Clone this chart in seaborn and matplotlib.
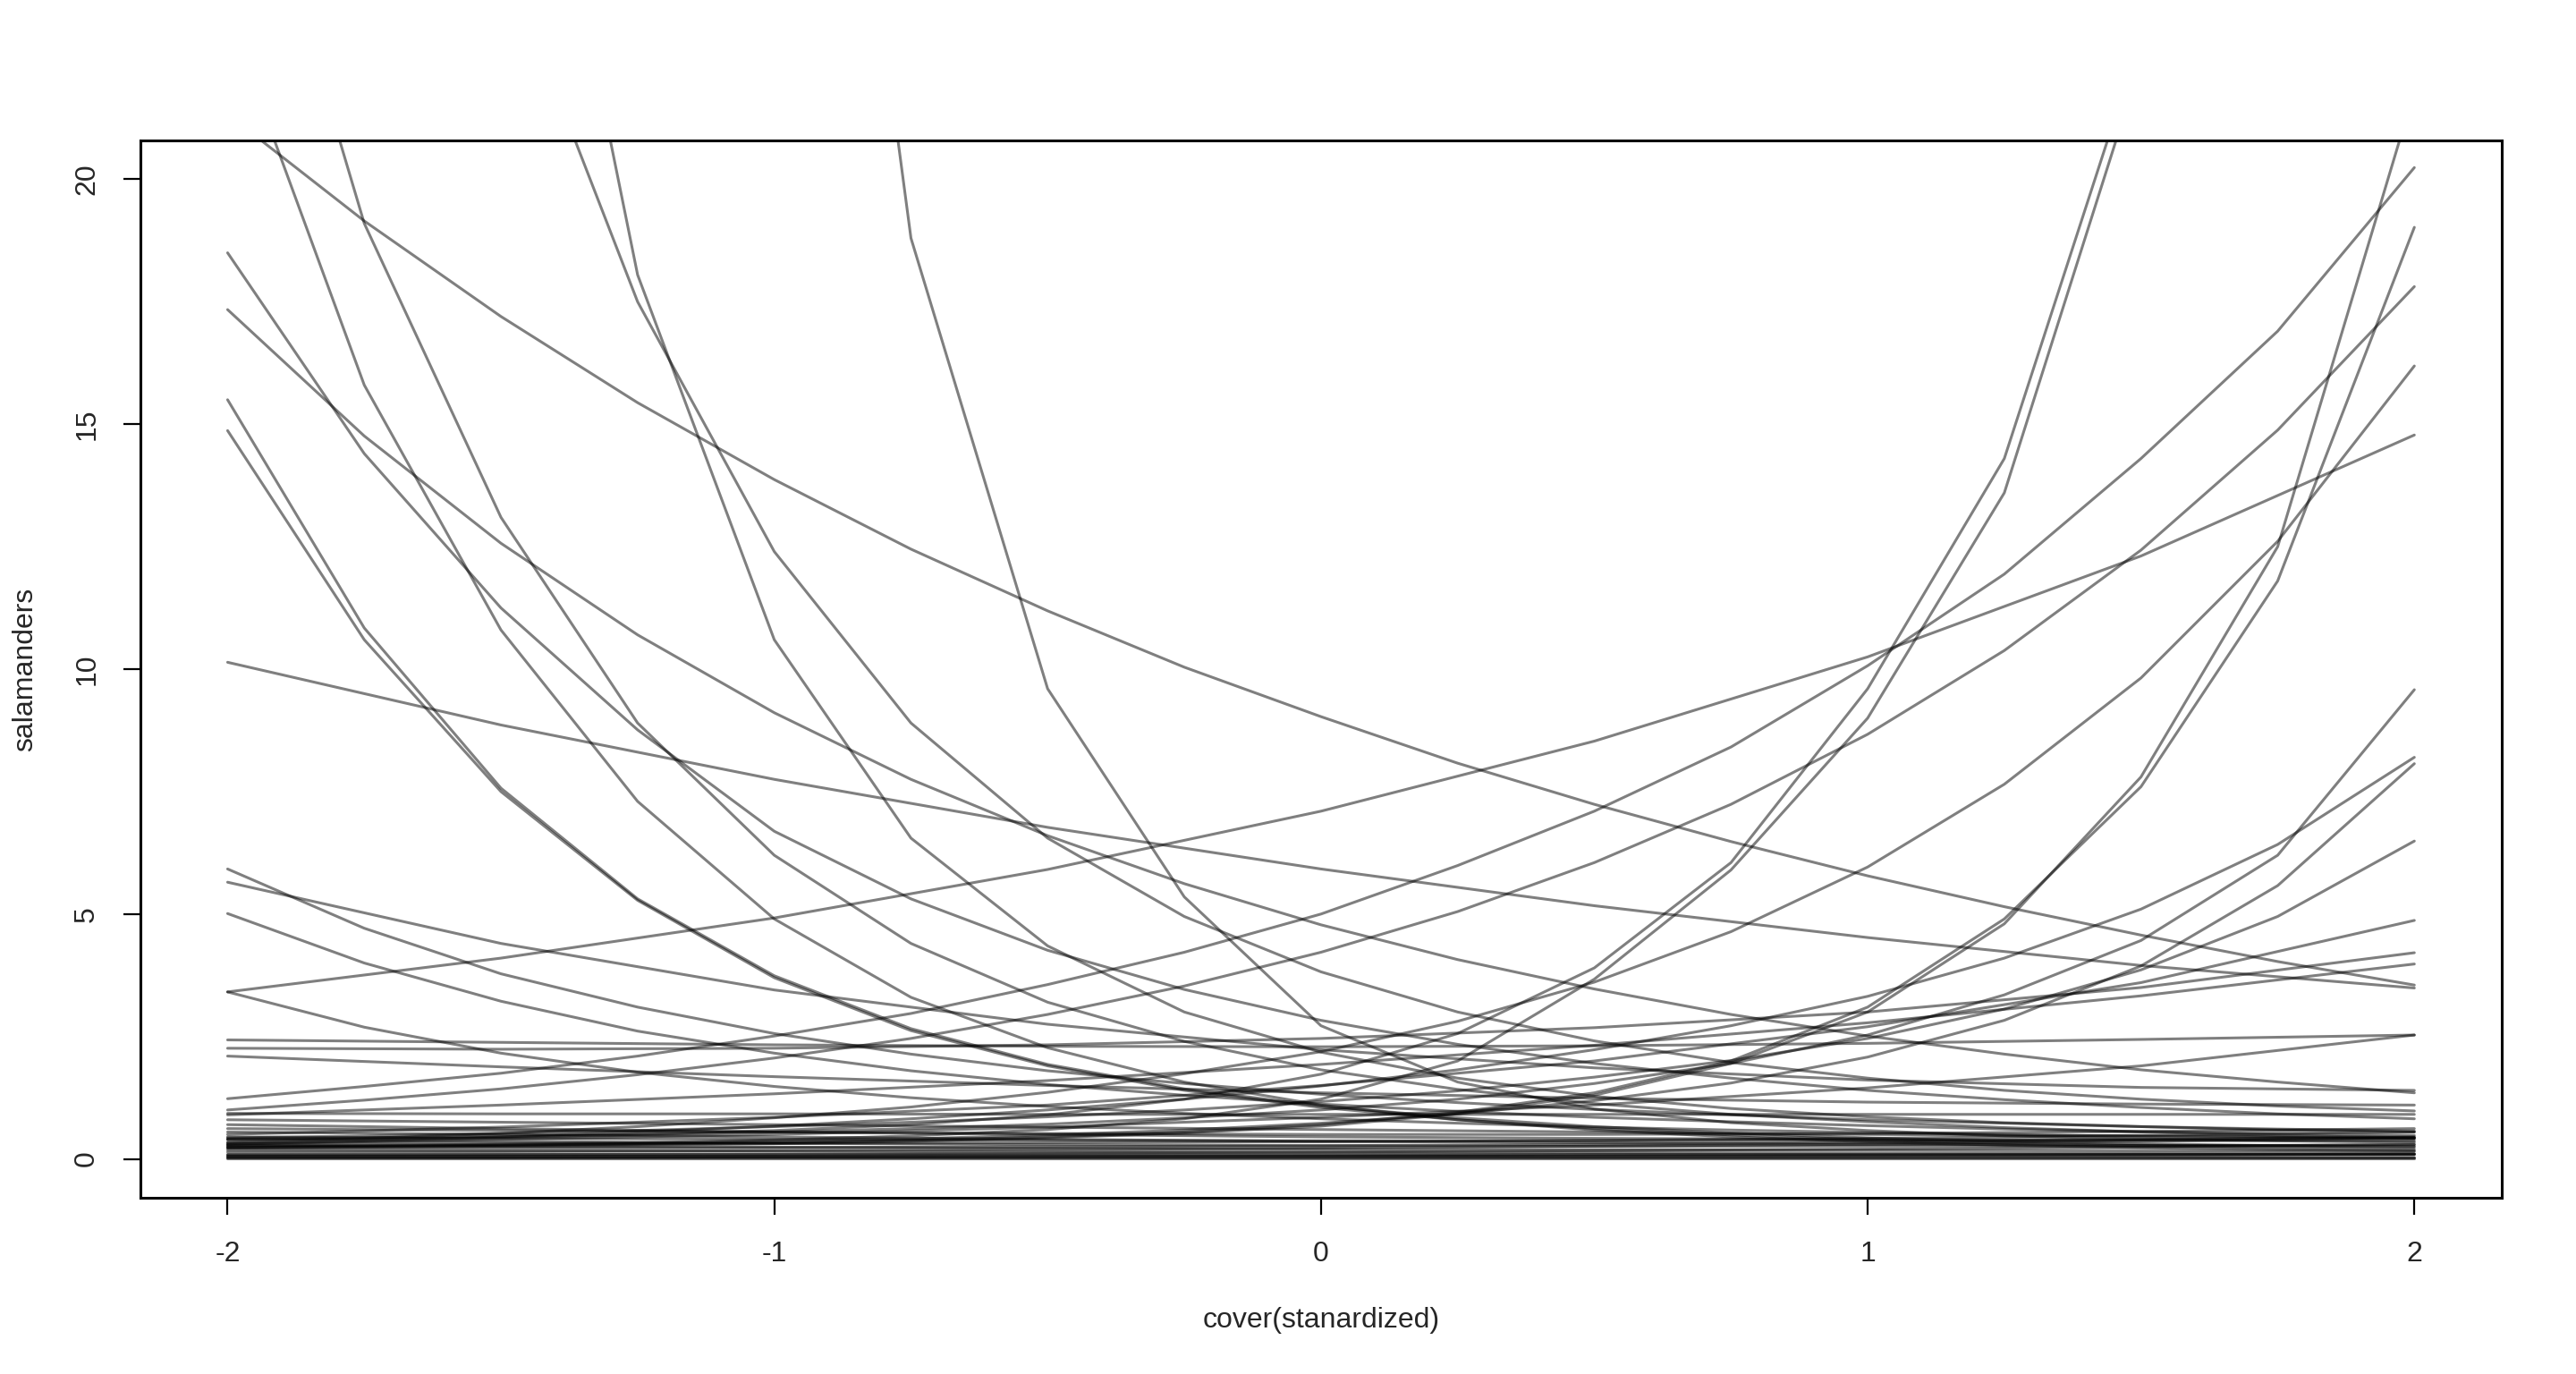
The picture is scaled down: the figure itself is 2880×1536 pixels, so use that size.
import matplotlib
matplotlib.use("Agg")
from matplotlib import pyplot as plt
import numpy as np
import pandas as pd
import seaborn as sns

# fine x grid, used for the curves that bend a lot
cover_fine = [-2.0, -1.75, -1.5, -1.25, -1.0, -0.75, -0.5, -0.25, 0.0,
              0.25, 0.5, 0.75, 1.0, 1.25, 1.5, 1.75, 2.0]
# coarse x grid, used for the flatter curves
cover = [-2.0, -1.5, -1.0, -0.5, 0.0, 0.5, 1.0, 1.5, 2.0]

# curves read at the fine grid (values above 20 run off the top)
bending = [
    [21.33, 19.15, 17.2, 15.44, 13.87, 12.45, 11.19, 10.04, 9.03, 8.08, 7.24, 6.48, 5.78, 5.15, 4.57, 4.03, 3.55],
    [23.4, 15.8, 10.8, 7.3, 4.9, 3.3, 2.27, 1.57, 1.1, 0.8, 0.59, 0.45, 0.35, 0.28, 0.23, 0.19, 0.165],
    [15.5, 10.84, 7.57, 5.31, 3.74, 2.66, 1.93, 1.43, 1.08, 0.84, 0.66, 0.53, 0.43, 0.36, 0.31, 0.27, 0.24],
    [14.87, 10.6, 7.5, 5.28, 3.7, 2.62, 1.9, 1.4, 1.05, 0.8, 0.62, 0.49, 0.39, 0.32, 0.27, 0.23, 0.2],
    [18.5, 14.4, 11.25, 8.76, 6.69, 5.31, 4.26, 3.46, 2.83, 2.34, 1.95, 1.65, 1.4, 1.21, 1.05, 0.92, 0.82],
    [17.34, 14.76, 12.57, 10.7, 9.11, 7.75, 6.6, 5.62, 4.78, 4.07, 3.47, 2.95, 2.51, 2.14, 1.82, 1.57, 1.35],
    [28.5, 19.1, 13.1, 8.9, 6.2, 4.4, 3.2, 2.4, 1.82, 1.42, 1.13, 0.91, 0.76, 0.64, 0.55, 0.48, 0.43],
    [50.0, 34.8, 24.7, 17.5, 12.4, 8.9, 6.55, 4.95, 3.82, 3.0, 2.41, 1.97, 1.65, 1.4, 1.22, 1.08, 0.98],
    [100.0, 55.0, 31.8, 18.05, 10.6, 6.55, 4.35, 3.0, 2.18, 1.65, 1.28, 1.03, 0.86, 0.74, 0.66, 0.59, 0.55],
    [1800.0, 600.0, 220.0, 90.0, 39.8, 18.8, 9.6, 5.35, 2.72, 1.57, 1.02, 0.74, 0.58, 0.47, 0.41, 0.37, 0.34],
    [5.92, 4.71, 3.78, 3.1, 2.56, 2.14, 1.8, 1.54, 1.32, 1.15, 1.01, 0.9, 0.8, 0.73, 0.66, 0.61, 0.57],
    [5.01, 4.0, 3.22, 2.61, 2.16, 1.8, 1.52, 1.3, 1.12, 0.97, 0.85, 0.76, 0.68, 0.61, 0.56, 0.52, 0.48],
    [3.41, 2.69, 2.16, 1.77, 1.48, 1.25, 1.07, 0.93, 0.82, 0.73, 0.65, 0.59, 0.54, 0.5, 0.46, 0.44, 0.41],
    [1.23, 1.48, 1.75, 2.1, 2.51, 2.97, 3.56, 4.22, 5.0, 5.99, 7.1, 8.41, 10.07, 11.94, 14.3, 16.9, 20.24],
    [1.0, 1.2, 1.43, 1.72, 2.06, 2.46, 2.95, 3.53, 4.22, 5.05, 6.05, 7.24, 8.67, 10.38, 12.43, 14.88, 17.81],
    [0.34, 0.42, 0.52, 0.66, 0.84, 1.06, 1.36, 1.74, 2.19, 2.81, 3.61, 4.64, 5.96, 7.65, 9.82, 12.61, 16.19],
    [0.25, 0.26, 0.28, 0.3, 0.33, 0.38, 0.45, 0.55, 0.7, 0.95, 1.35, 2.0, 3.1, 4.9, 7.6, 11.8, 19.02],
    [0.22, 0.24, 0.26, 0.28, 0.31, 0.36, 0.43, 0.53, 0.67, 0.92, 1.3, 1.95, 3.0, 4.8, 7.8, 12.5, 21.8],
    [0.39, 0.41, 0.44, 0.5, 0.58, 0.7, 0.9, 1.22, 1.73, 2.56, 3.9, 6.05, 9.6, 14.3, 22.9, 36.6, 63.0],
    [0.27, 0.28, 0.3, 0.33, 0.39, 0.47, 0.6, 0.82, 1.22, 2.0, 3.67, 5.9, 9.0, 13.6, 22.4, 34.0, 55.0],
    [0.41, 0.43, 0.46, 0.5, 0.55, 0.62, 0.71, 0.84, 1.0, 1.22, 1.54, 1.95, 2.53, 3.35, 4.46, 6.2, 9.58],
    [0.3, 0.37, 0.45, 0.55, 0.67, 0.82, 1.0, 1.22, 1.49, 1.82, 2.23, 2.72, 3.32, 4.1, 5.1, 6.42, 8.2],
    [0.24, 0.26, 0.28, 0.31, 0.36, 0.41, 0.49, 0.59, 0.73, 0.92, 1.19, 1.55, 2.08, 2.83, 3.94, 5.58, 8.07],
    [0.43, 0.47, 0.52, 0.58, 0.66, 0.75, 0.86, 1.0, 1.17, 1.39, 1.67, 2.01, 2.46, 3.06, 3.86, 4.95, 6.49],
]

# flatter curves read at the coarse grid
gentle = [
    [10.14, 8.86, 7.75, 6.77, 5.92, 5.17, 4.52, 3.95, 3.49],
    [5.65, 4.4, 3.45, 2.75, 2.23, 1.86, 1.61, 1.46, 1.4],
    [2.1, 1.88, 1.68, 1.5, 1.35, 1.24, 1.16, 1.12, 1.1],
    [0.93, 0.92, 0.92, 0.91, 0.91, 0.91, 0.91, 0.91, 0.91],
    [2.43, 2.38, 2.33, 2.3, 2.29, 2.31, 2.36, 2.44, 2.53],
    [3.41, 4.1, 4.92, 5.91, 7.1, 8.53, 10.25, 12.31, 14.78],
    [0.5, 0.65, 0.85, 1.1, 1.5, 2.0, 2.7, 3.6, 4.87],
    [2.26, 2.24, 2.26, 2.33, 2.46, 2.68, 3.0, 3.5, 4.21],
    [0.9, 1.1, 1.33, 1.6, 1.93, 2.32, 2.78, 3.33, 3.98],
    [0.3, 0.4, 0.5, 0.65, 0.85, 1.1, 1.45, 1.9, 2.53],
]

# the bundle of near-zero curves
near_zero = [
    [0.8, 0.75, 0.7, 0.65, 0.6, 0.55, 0.5, 0.47, 0.44],
    [0.7, 0.62, 0.55, 0.5, 0.45, 0.42, 0.4, 0.38, 0.37],
    [0.62, 0.58, 0.55, 0.52, 0.5, 0.5, 0.52, 0.56, 0.62],
    [0.55, 0.5, 0.45, 0.4, 0.36, 0.33, 0.3, 0.28, 0.26],
    [0.45, 0.42, 0.4, 0.38, 0.37, 0.37, 0.38, 0.4, 0.43],
    [0.4, 0.36, 0.32, 0.29, 0.27, 0.26, 0.26, 0.27, 0.29],
    [0.33, 0.32, 0.32, 0.33, 0.35, 0.38, 0.42, 0.48, 0.55],
    [0.28, 0.26, 0.24, 0.22, 0.2, 0.19, 0.18, 0.17, 0.16],
    [0.22, 0.22, 0.23, 0.25, 0.27, 0.3, 0.34, 0.39, 0.45],
    [0.18, 0.17, 0.16, 0.15, 0.14, 0.13, 0.12, 0.12, 0.11],
    [0.14, 0.15, 0.17, 0.19, 0.22, 0.26, 0.3, 0.36, 0.42],
    [0.1, 0.1, 0.1, 0.1, 0.1, 0.1, 0.1, 0.1, 0.1],
    [0.08, 0.09, 0.1, 0.12, 0.14, 0.17, 0.2, 0.24, 0.3],
    [0.06, 0.06, 0.06, 0.07, 0.07, 0.08, 0.08, 0.09, 0.09],
    [0.05, 0.05, 0.05, 0.05, 0.05, 0.04, 0.04, 0.04, 0.03],
    [0.03, 0.03, 0.04, 0.04, 0.05, 0.06, 0.07, 0.08, 0.1],
    [0.02, 0.02, 0.02, 0.02, 0.02, 0.02, 0.02, 0.02, 0.02],
    [0.01, 0.01, 0.01, 0.01, 0.01, 0.01, 0.01, 0.01, 0.01],
]

x_ticks = [-2, -1, 0, 1, 2]
y_ticks = [0, 5, 10, 15, 20]

# long table, one "draw" per curve
rows = []
draw = 0
for xs, group in [(cover_fine, bending), (cover, gentle), (cover, near_zero)]:
    for ys in group:
        for x, y in zip(xs, ys):
            rows.append({"draw": draw, "cover": x, "salamanders": y})
        draw += 1
df = pd.DataFrame(rows)

sns.set_style("white")
plt.rcParams["font.family"] = ["Liberation Sans", "DejaVu Sans"]
plt.rcParams["axes.unicode_minus"] = False

fig = plt.figure(figsize=(14.4, 7.68), dpi=200)
ax = fig.add_axes([0.0544, 0.128, 0.9168, 0.770])

sns.lineplot(data=df, x="cover", y="salamanders", units="draw", estimator=None,
             color="black", alpha=0.5, linewidth=1.1, ax=ax, legend=False)

# R style: 4% padding around the 0..20 and -2..2 ranges
ax.set_xlim(-2.16, 2.16)
ax.set_ylim(-0.8, 20.8)
ax.set_xticks(x_ticks)
ax.set_xticklabels([str(t) for t in x_ticks], fontsize=11.5)
ax.set_yticks(y_ticks)
ax.set_yticklabels([str(t) for t in y_ticks], fontsize=11.5, rotation=90, va="center")
ax.tick_params(axis="x", direction="out", length=7, width=0.8, color="black", bottom=True, pad=10)
ax.tick_params(axis="y", direction="out", length=7, width=0.8, color="black", left=True, pad=9)
for s in ax.spines.values():
    s.set_visible(True)
    s.set_color("black")
    s.set_linewidth(1.1)

ax.set_xlabel("cover(stanardized)", fontsize=11.5, labelpad=16)
ax.set_ylabel("salamanders", fontsize=11.5, labelpad=14)

plt.savefig("out.png", dpi=200)
plt.close()
